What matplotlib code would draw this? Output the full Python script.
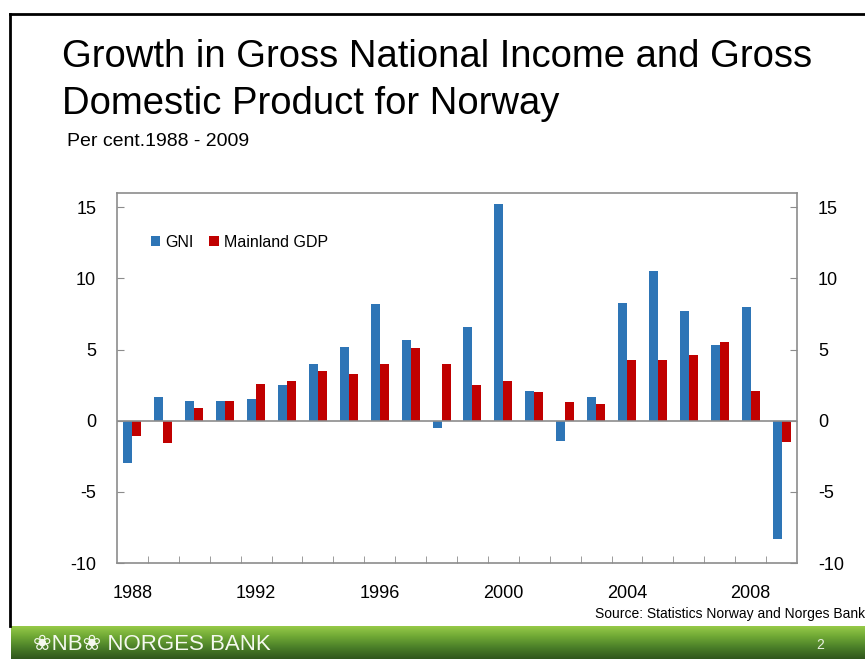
import numpy as np
import matplotlib
matplotlib.use("Agg")
import matplotlib.pyplot as plt
from matplotlib.lines import Line2D

years = list(range(1988, 2010))
gni = [-3.0, 1.7, 1.4, 1.4, 1.5, 2.5, 4.0, 5.2, 8.2, 5.7, -0.5,
       6.6, 15.2, 2.1, -1.4, 1.7, 8.3, 10.5, 7.7, 5.3, 8.0, -8.3]
mainland_gdp = [-1.1, -1.6, 0.9, 1.4, 2.6, 2.8, 3.5, 3.3, 4.0, 5.1, 4.0,
                2.5, 2.8, 2.0, 1.3, 1.2, 4.3, 4.3, 4.6, 5.5, 2.1, -1.5]
yticks = [-10, -5, 0, 5, 10, 15]

BLUE = "#2E75B6"
RED = "#C00000"
GREY = "#8C8C8C"
W, H = 865, 659

plt.rcParams['font.family'] = ['Liberation Sans', 'DejaVu Sans']
plt.rcParams['axes.unicode_minus'] = False

fig = plt.figure(figsize=(W / 100, H / 100), dpi=100)
fig.patch.set_facecolor("white")


def fx(px):
    return px / W


def fy(py):
    return 1 - py / H


# slide frame
fig.add_artist(Line2D([fx(10), 1], [fy(14), fy(14)], color="black", lw=2))
fig.add_artist(Line2D([fx(10), fx(10)], [fy(14), fy(626)], color="black", lw=2))

# green footer band with gradient
band = fig.add_axes([fx(11), 0, 1 - fx(11), fy(626)])
grad = np.linspace(0, 1, 100).reshape(-1, 1)
cmap = matplotlib.colors.LinearSegmentedColormap.from_list(
    "band", ["#9ACD4A", "#6FA835", "#4A7E28", "#30561C"])
band.imshow(grad, aspect="auto", cmap=cmap, extent=[0, 1, 0, 1], origin="upper")
band.set_axis_off()
fig.text(fx(33), fy(644), "\u2740NB\u2740 NORGES BANK", color="#F4F8EE",
         fontsize=16, va="center", ha="left", family=['Liberation Sans', 'DejaVu Sans'])
fig.text(fx(820), fy(645), "2", color="#E8F0E0", fontsize=10, va="center", ha="center")

# titles
fig.text(fx(62), fy(57), "Growth in Gross National Income and Gross", fontsize=27.5,
         va="center", ha="left")
fig.text(fx(62), fy(104), "Domestic Product for Norway", fontsize=27.5,
         va="center", ha="left")
fig.text(fx(67), fy(141), "Per cent.1988 - 2009", fontsize=14, va="center", ha="left")
fig.text(1.0, fy(614), "Source: Statistics Norway and Norges Bank", fontsize=10,
         va="center", ha="right")

# chart
ax = fig.add_axes([fx(117), fy(563), fx(680), 370 / H])
x = np.arange(len(years))
bw = 0.29
ax.bar(x - bw / 2, gni, bw, color=BLUE, label="GNI")
ax.bar(x + bw / 2, mainland_gdp, bw, color=RED, label="Mainland GDP")
ax.axhline(0, color=GREY, lw=1.2)

ax.set_xlim(-0.5, len(years) - 0.5)
ax.set_ylim(-10, 16)
ax.set_yticks(yticks)
ax.set_xticks(x[::4])
ax.set_xticklabels([str(y) for y in years[::4]])
ax.set_xticks(np.arange(0.5, len(years) - 1, 1), minor=True)
ax.tick_params(axis="x", which="major", length=0, pad=16, labelsize=13)
ax.tick_params(axis="x", which="minor", direction="in", length=5, color=GREY)
ax.tick_params(axis="y", direction="in", length=5, color=GREY, labelsize=13,
               pad=15, left=True, right=True, labelleft=True, labelright=True)
for s in ax.spines.values():
    s.set_color(GREY)
    s.set_linewidth(1.2)

ax.legend(loc="upper left", bbox_to_anchor=(0.04, 0.905), ncol=2, frameon=False,
          fontsize=11.5, handlelength=0.6, handleheight=0.6, handletextpad=0.3,
          columnspacing=1.0, borderaxespad=0)

fig.savefig("out.png", dpi=100)
